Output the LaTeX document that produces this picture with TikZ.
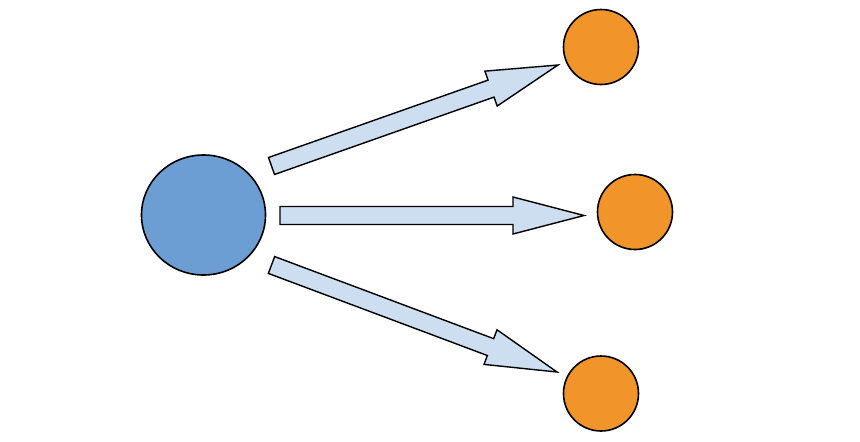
\documentclass[tikz,border=0pt]{standalone}
\usetikzlibrary{calc,shapes.geometric}
\definecolor{srcblue}{RGB}{109,158,211}
\definecolor{dstorange}{RGB}{241,148,42}
\definecolor{arrowfill}{RGB}{204,222,240}
\tikzset{
  src/.style={ellipse,draw=black,line width=1.6pt,fill=srcblue,minimum width=124pt,minimum height=120pt,inner sep=0pt},
  dst/.style={circle,draw=black,line width=1.6pt,fill=dstorange,minimum size=75pt,inner sep=0pt},
  blockarrow/.style={draw=black,line width=1.4pt,fill=arrowfill,line join=miter}
}
\newcommand{\blockarr}[2]{%
  \draw[blockarrow]
    ($(#1)!9pt!90:(#2)$) --
    ($($(#2)!71pt!(#1)$)!9pt!90:(#2)$) --
    ($($(#2)!71pt!(#1)$)!18.5pt!90:(#2)$) --
    (#2) --
    ($($(#2)!71pt!(#1)$)!18.5pt!-90:(#2)$) --
    ($($(#2)!71pt!(#1)$)!9pt!-90:(#2)$) --
    ($(#1)!9pt!-90:(#2)$) -- cycle;}
\begin{document}
\begin{tikzpicture}[x=1pt,y=-1pt]
  \useasboundingbox (0,0) rectangle (860,442);
  \node[src] (s) at (203.5,215) {};
  \node[dst] (t1) at (601,47) {};
  \node[dst] (t2) at (635,212) {};
  \node[dst] (t3) at (601,393.5) {};
  \coordinate (a1s) at (271.5,166);
  \coordinate (a1e) at (558,65);
  \coordinate (a2s) at (280,215.5);
  \coordinate (a2e) at (584,215.5);
  \coordinate (a3s) at (271.5,265);
  \coordinate (a3e) at (557,372);
  \blockarr{a1s}{a1e}
  \blockarr{a2s}{a2e}
  \blockarr{a3s}{a3e}
\end{tikzpicture}
\end{document}
